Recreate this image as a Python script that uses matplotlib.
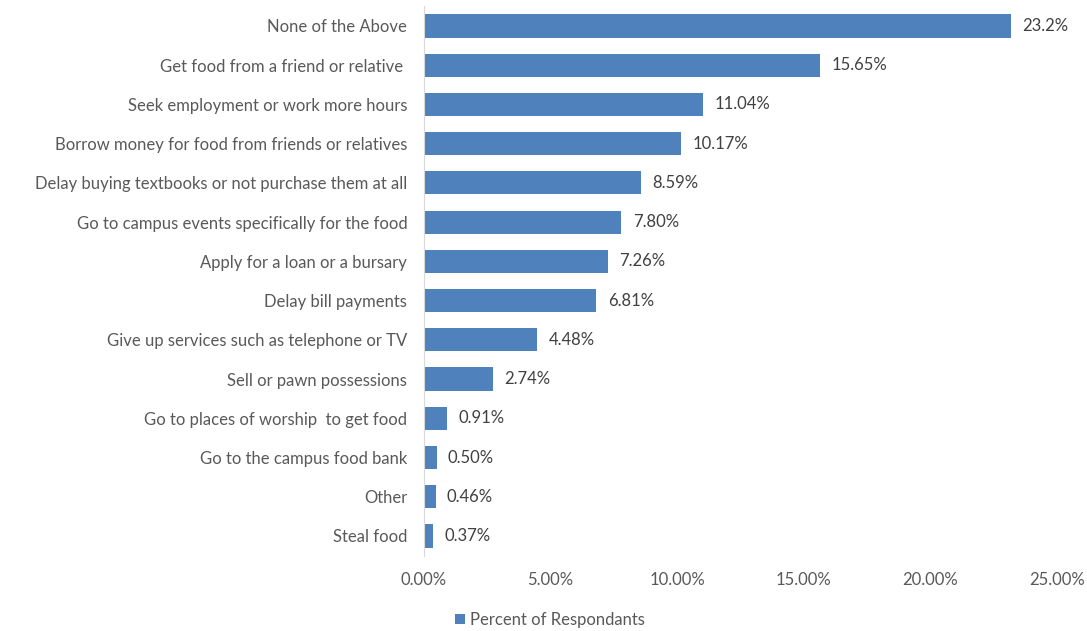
import matplotlib.pyplot as plt
from matplotlib.ticker import FuncFormatter

plt.rcParams['font.family'] = ['Lato', 'DejaVu Sans']

categories = ['None of the Above', 'Get food from a friend or relative ',
              'Seek employment or work more hours',
              'Borrow money for food from friends or relatives',
              'Delay buying textbooks or not purchase them at all',
              'Go to campus events specifically for the food',
              'Apply for a loan or a bursary', 'Delay bill payments',
              'Give up services such as telephone or TV',
              'Sell or pawn possessions', 'Go to places of worship  to get food',
              'Go to the campus food bank', 'Other', 'Steal food']
values = [23.2, 15.65, 11.04, 10.17, 8.59, 7.80, 7.26, 6.81, 4.48, 2.74,
          0.91, 0.50, 0.46, 0.37]
value_labels = ['23.2%', '15.65%', '11.04%', '10.17%', '8.59%', '7.80%', '7.26%',
                '6.81%', '4.48%', '2.74%', '0.91%', '0.50%', '0.46%', '0.37%']

text_color = '#595959'
bar_color = '#4F81BD'

fig = plt.figure(figsize=(10.87, 6.31), dpi=100)
ax = fig.add_axes([0.390, 0.1195, 0.582, 0.8705])

pos = list(range(len(categories)))
bars = ax.barh(pos, values, height=0.59, color=bar_color, label='Percent of Respondants')
ax.set_ylim(len(categories) - 0.5, -0.5)
ax.set_xlim(0, 25)
ax.set_yticks(pos)
ax.set_yticklabels(categories)
ax.set_xticks([0, 5, 10, 15, 20, 25])
ax.xaxis.set_major_formatter(FuncFormatter(lambda v, p: '%.2f%%' % v))

for b, lab in zip(bars, value_labels):
    ax.text(b.get_width() + 0.45, b.get_y() + b.get_height() / 2, lab,
            va='center', ha='left', fontsize=12, color='#404040')

for s in ['top', 'right', 'bottom']:
    ax.spines[s].set_visible(False)
ax.spines['left'].set_color('#D9D9D9')
ax.tick_params(axis='both', length=0, labelsize=12, colors=text_color)
ax.tick_params(axis='y', pad=12)
ax.tick_params(axis='x', pad=12)

ax.legend(loc='center', bbox_to_anchor=(550 / 1087, 1 - 620 / 631),
          bbox_transform=fig.transFigure, frameon=False, fontsize=12,
          handlelength=0.6, handleheight=0.6, handletextpad=0.3,
          labelcolor=text_color)

fig.savefig('out.png', dpi=100)
